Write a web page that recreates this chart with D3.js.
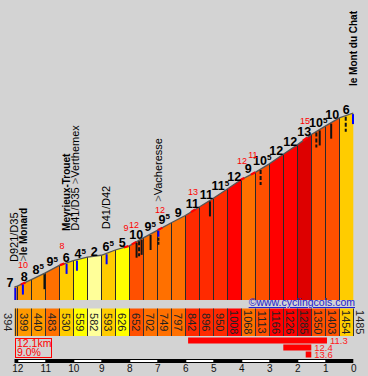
<!DOCTYPE html>
<html><head><meta charset="utf-8">
<script src="https://cdn.jsdelivr.net/npm/d3@7"></script>
<style>
body{margin:0;background:#d3d3d3;}
svg{display:block;font-family:"Liberation Sans",Arial,sans-serif;}
</style>
</head><body>
<svg id="c" width="368" height="376"></svg>
<script>
// ---- data ----
const kms = [12.1,12,11.5,11,10.5,10,9.5,9,8.5,8,7.5,7,6.5,6,5.5,5,4.5,4,3.5,3,2.5,2,1.5,1,0.5,0];
const altitudes = [394,399,440,483,530,559,582,593,626,652,702,749,797,842,896,950,1008,1068,1113,1166,1226,1285,1350,1403,1454,1485];
const grades = [7,8,8.5,9.5,6,4.5,2,6.5,5,10,9.5,9.5,9,11,11,11.5,12,9,10.5,12,12,13,10.5,10,6];
const maxKm = [11.83,10.44,8.15,7.87,6.94,5.76,4.01,3.62,1.76];
const maxGrades = [10,8,9,12,12,13,12,11,15];
const markerKm = [12.07,11.8,11.03,10.24,9.87,8.81,7.74,7.65,7.56,7.24,6.96,5.12,3.31,1.32,1.2,0.79,0.27,0.01];
const markerKind = ["bluebase","blue","black","blue","blue","blue","black","dash","black","black","bluedash","black","dash","dash","black","black","dash","blue"];
const placeKm = [12.1,11.8,10.24,9.87,8.81,6.96,0];
const placeNames = ["D921/D35",">le Monard","Meyrieux-Trouet","D41/D35 >Verthemex","D41/D42",">Vacheresse","le Mont du Chat"];
const placeKind = ["road","place","place","road","road","road","place"];
const kmTicks = [12,11,10,9,8,7,6,5,4,3,2,1,0];
const summary = ["12.1km","9.0%"];
const steepFrom = [5.9,2.5,1.7];
const steepTo = [0.94,1.5,1.5];
const steepGrades = [11.3,12.4,13.6];
const credit = "©www.cyclingcols.com";

// ---- scales ----
const svg = d3.select("#c");
const x = d3.scaleLinear().domain([12.1,0]).range([14.5,353.3]);
const y = d3.scaleLinear().domain([394,1485]).range([287,113]);
const altAt = d3.scaleLinear().domain(kms).range(altitudes);
const color = d3.scaleThreshold().domain([3,5.5,7,9,10,11,12,13])
  .range(["#ffff99","#ffff00","#ffcc00","#ff9900","#ff7000","#ff5000","#ff2a00","#ff0000","#dd0000"]);
const baseY = 300;

const segs = grades.map((g,i)=>({i,g,k0:kms[i],k1:kms[i+1],a0:altitudes[i],a1:altitudes[i+1]}));

// profile fills
svg.append("g").selectAll("path").data(segs).join("path")
  .attr("d",d=>`M${x(d.k0)},${y(d.a0)}L${x(d.k1)},${y(d.a1)}L${x(d.k1)},${baseY}L${x(d.k0)},${baseY}Z`)
  .attr("fill",d=>color(d.g));

// separators
svg.append("g").selectAll("line").data(segs.slice(1)).join("line")
  .attr("x1",d=>Math.round(x(d.k0))+0.5).attr("x2",d=>Math.round(x(d.k0))+0.5)
  .attr("y1",d=>y(d.a0)).attr("y2",baseY)
  .attr("stroke","#2a2a2a").attr("stroke-width",1);

// profile line
svg.append("path")
  .attr("d",d3.line().x((d,i)=>x(kms[i])).y(d=>y(d))(altitudes))
  .attr("fill","none").attr("stroke","#555").attr("stroke-width",1.3);

// steepest 100m highlights
svg.append("g").selectAll("path").data(maxKm).join("path")
  .attr("d",k=>d3.line()([k+0.04,k-0.04,k-0.12].map(v=>[x(v),y(altAt(v))])))
  .attr("fill","none").attr("stroke","#ff0000").attr("stroke-width",2.2);

// markers
const mk = markerKm.map((k,i)=>({k,kind:markerKind[i]}));
const mg = svg.append("g");
mk.forEach(m=>{
  const xx = x(m.k), y0 = y(altAt(m.k))+1;
  if(m.kind==="bluebase"){
    mg.append("line").attr("x1",xx).attr("x2",xx).attr("y1",y0).attr("y2",baseY).attr("stroke","#0000ff").attr("stroke-width",2);
  } else if(m.kind==="blue"){
    mg.append("line").attr("x1",xx).attr("x2",xx).attr("y1",y0).attr("y2",y0+10).attr("stroke","#0000ff").attr("stroke-width",2);
  } else if(m.kind==="bluedash"){
    mg.append("line").attr("x1",xx).attr("x2",xx).attr("y1",y0).attr("y2",y0+6).attr("stroke","#0000ff").attr("stroke-width",2);
    mg.append("line").attr("x1",xx).attr("x2",xx).attr("y1",y0+7).attr("y2",y0+14).attr("stroke","#111").attr("stroke-width",2).attr("stroke-dasharray","3,1");
  } else {
    const l = mg.append("line").attr("x1",xx).attr("x2",xx).attr("y1",y0).attr("y2",y0+15).attr("stroke","#111").attr("stroke-width",2);
    if(m.kind==="dash") l.attr("stroke-dasharray","4,2");
  }
});

// gradient labels
const gl = svg.append("g").attr("font-weight","bold").attr("font-size",12.5).attr("fill","#000");
segs.forEach(d=>{
  const x0 = x(d.k0), x1 = x(d.k1);
  const narrow = (x1-x0) < 6;
  const t = gl.append("text")
    .attr("x", narrow ? x0-1 : (x0+x1)/2)
    .attr("y", y(d.a1)+1)
    .attr("text-anchor", narrow ? "end" : "middle");
  t.append("tspan").text(Math.floor(d.g));
  if(d.g%1!==0) t.append("tspan").attr("font-size",8).attr("dy",-4.5).text("5");
});

// red max labels
svg.append("g").selectAll("text").data(maxKm).join("text")
  .attr("x",k=>x(k)+1).attr("y",k=>y(altAt(k))-16)
  .attr("text-anchor","middle").attr("font-size",9).attr("fill","#ff0000")
  .text((k,i)=>maxGrades[i]);

// place / road labels
const lift = [25,22,32,29,24,28,27];
const pg = svg.append("g").attr("font-size",11).attr("fill","#000");
placeNames.forEach((name,i)=>{
  const xx = x(placeKm[i]) + (i===3?-2:0);
  const yb = y(altAt(placeKm[i])) - lift[i];
  const t = pg.append("text").attr("transform",`translate(${xx},${yb}) rotate(-90)`).attr("dy","0.35em");
  const idx = name.indexOf(">");
  const before = idx>=0 ? name.slice(0,idx) : name;
  const after = idx>=0 ? name.slice(idx+1) : "";
  const isPlace = placeKind[i]==="place";
  if(before) t.append("tspan").attr("font-weight",(isPlace&&idx<0)?"bold":"normal")
    .attr("font-size",(isPlace&&idx<0)?10:11).text(before);
  if(idx>=0){
    t.append("tspan").attr("fill","#555").text(">");
    t.append("tspan").attr("font-weight",isPlace?"bold":"normal").attr("font-size",isPlace?10:11).text(after);
  }
});

// bottom altitude boxes
const boxTop = 308.5, boxBot = 336;
svg.append("g").selectAll("rect").data(segs).join("rect")
  .attr("x",d=>x(d.k0)).attr("width",d=>x(d.k1)-x(d.k0))
  .attr("y",boxTop).attr("height",boxBot-boxTop).attr("fill",d=>color(d.g));
svg.append("g").selectAll("line").data(kms).join("line")
  .attr("x1",k=>Math.round(x(k))+0.5).attr("x2",k=>Math.round(x(k))+0.5)
  .attr("y1",boxTop).attr("y2",boxBot).attr("stroke","#333").attr("stroke-width",1);
const altLabels = segs.slice(1).map(d=>({cx:(x(d.k0)+x(d.k1))/2, v:d.a0}));
altLabels.unshift({cx:8, v:altitudes[0]});
altLabels.push({cx:360, v:altitudes[altitudes.length-1]});
svg.append("g").selectAll("text").data(altLabels).join("text")
  .attr("transform",d=>`translate(${d.cx},${(boxTop+boxBot)/2}) rotate(90)`)
  .attr("text-anchor","middle").attr("dy","0.35em")
  .attr("font-size",11).attr("fill","#222").text(d=>d.v);

// credit
svg.append("text").attr("x",355).attr("y",306).attr("text-anchor","end")
  .attr("font-size",10.5).attr("fill","#2020d0").attr("text-decoration","underline").text(credit);

// summary box
svg.append("rect").attr("x",15.5).attr("y",338.5).attr("width",36).attr("height",19)
  .attr("fill","none").attr("stroke","#ff0000").attr("stroke-width",1);
svg.append("g").selectAll("text").data(summary).join("text")
  .attr("x",17).attr("y",(d,i)=>347+i*9).attr("font-size",10.5).attr("fill","#ff0000").text(d=>d);

// steepest sections bars
svg.append("g").selectAll("rect").data(steepGrades).join("rect")
  .attr("x",(d,i)=>x(steepFrom[i])).attr("width",(d,i)=>x(steepTo[i])-x(steepFrom[i]))
  .attr("y",(d,i)=>337.5+i*7).attr("height",6).attr("fill","#ff0000");
svg.append("g").selectAll("text").data(steepGrades).join("text")
  .attr("x",(d,i)=>x(steepTo[i])+3).attr("y",(d,i)=>344+i*7)
  .attr("font-size",9.5).attr("fill","#ff2020").text(d=>d.toFixed(1));

// km bar
svg.append("rect").attr("x",x(12.1)).attr("width",x(0)-x(12.1)).attr("y",359).attr("height",4).attr("fill","#000");
svg.append("g").selectAll("rect").data(kmTicks.filter(k=>k>0 && k%2===0)).join("rect")
  .attr("x",k=>x(k)+1).attr("width",k=>x(k-1)-x(k)-1).attr("y",360).attr("height",2).attr("fill","#fff");

// km axis labels
const ax = svg.append("g").attr("transform","translate(0,363)")
  .call(d3.axisBottom(x).tickValues(kmTicks).tickSize(0).tickPadding(2).tickFormat(d3.format("d")));
ax.select(".domain").remove();
ax.selectAll("text").attr("font-size",10).attr("fill","#111").attr("font-family","Liberation Sans, Arial, sans-serif");
</script>
</body></html>
